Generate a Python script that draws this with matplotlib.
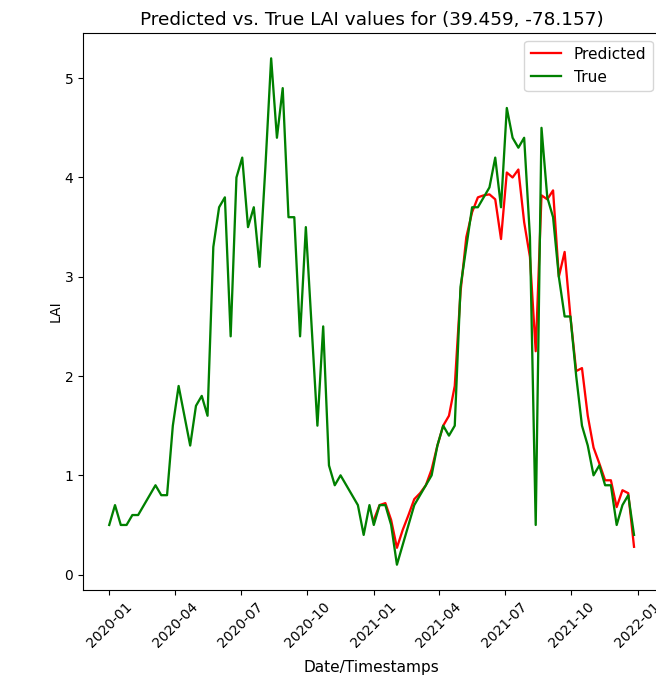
import matplotlib
matplotlib.use("Agg")
import matplotlib.pyplot as plt
import matplotlib.dates as mdates
import pandas as pd

plt.rcParams["font.size"] = 11.1
plt.rcParams["lines.linewidth"] = 1.65

# 8-day composite dates, restarting on Jan 1 each year
dates_2020 = pd.date_range("2020-01-01", periods=46, freq="8D")
dates_2021 = pd.date_range("2021-01-01", periods=46, freq="8D")

true_2020 = [0.5, 0.7, 0.5, 0.5, 0.6, 0.6, 0.7, 0.8, 0.9, 0.8,
             0.8, 1.5, 1.9, 1.6, 1.3, 1.7, 1.8, 1.6, 3.3, 3.7,
             3.8, 2.4, 4.0, 4.2, 3.5, 3.7, 3.1, 4.1, 5.2, 4.4,
             4.9, 3.6, 3.6, 2.4, 3.5, 2.5, 1.5, 2.5, 1.1, 0.9,
             1.0, 0.9, 0.8, 0.7, 0.4, 0.7]
true_2021 = [0.5, 0.7, 0.7, 0.5, 0.1, 0.3, 0.5, 0.7, 0.8, 0.9,
             1.0, 1.3, 1.5, 1.4, 1.5, 2.9, 3.3, 3.7, 3.7, 3.8,
             3.9, 4.2, 3.7, 4.7, 4.4, 4.3, 4.4, 3.4, 0.5, 4.5,
             3.8, 3.6, 3.0, 2.6, 2.6, 2.0, 1.5, 1.3, 1.0, 1.1,
             0.9, 0.9, 0.5, 0.7, 0.8, 0.4]
pred_2021 = [0.55, 0.7, 0.72, 0.55, 0.27, 0.45, 0.6, 0.76, 0.82, 0.9,
             1.06, 1.3, 1.5, 1.6, 1.9, 2.85, 3.4, 3.65, 3.8, 3.82,
             3.83, 3.78, 3.38, 4.05, 4.0, 4.08, 3.55, 3.2, 2.25, 3.82,
             3.78, 3.87, 3.0, 3.25, 2.6, 2.05, 2.08, 1.6, 1.28, 1.12,
             0.95, 0.95, 0.68, 0.85, 0.82, 0.28]

true_dates = dates_2020.append(dates_2021)
true_vals = true_2020 + true_2021

fig = plt.figure(figsize=(6.56, 6.78), dpi=100)
ax = fig.add_axes([0.1265, 0.1298, 0.88, 0.8215])

ax.plot(dates_2021, pred_2021, color="red", label="Predicted")
ax.plot(true_dates, true_vals, color="green", label="True")

ax.xaxis.set_major_locator(mdates.MonthLocator(bymonth=[1, 4, 7, 10]))
ax.xaxis.set_major_formatter(mdates.DateFormatter("%Y-%m"))
ax.tick_params(labelsize=10)
plt.setp(ax.get_xticklabels(), rotation=45)

ax.set_title("Predicted vs. True LAI values for (39.459, -78.157)")
ax.set_xlabel("Date/Timestamps", labelpad=7)
ax.set_ylabel("LAI", fontsize=10, labelpad=1)
ax.legend(loc="upper right")

fig.savefig("out.png", dpi=100)
